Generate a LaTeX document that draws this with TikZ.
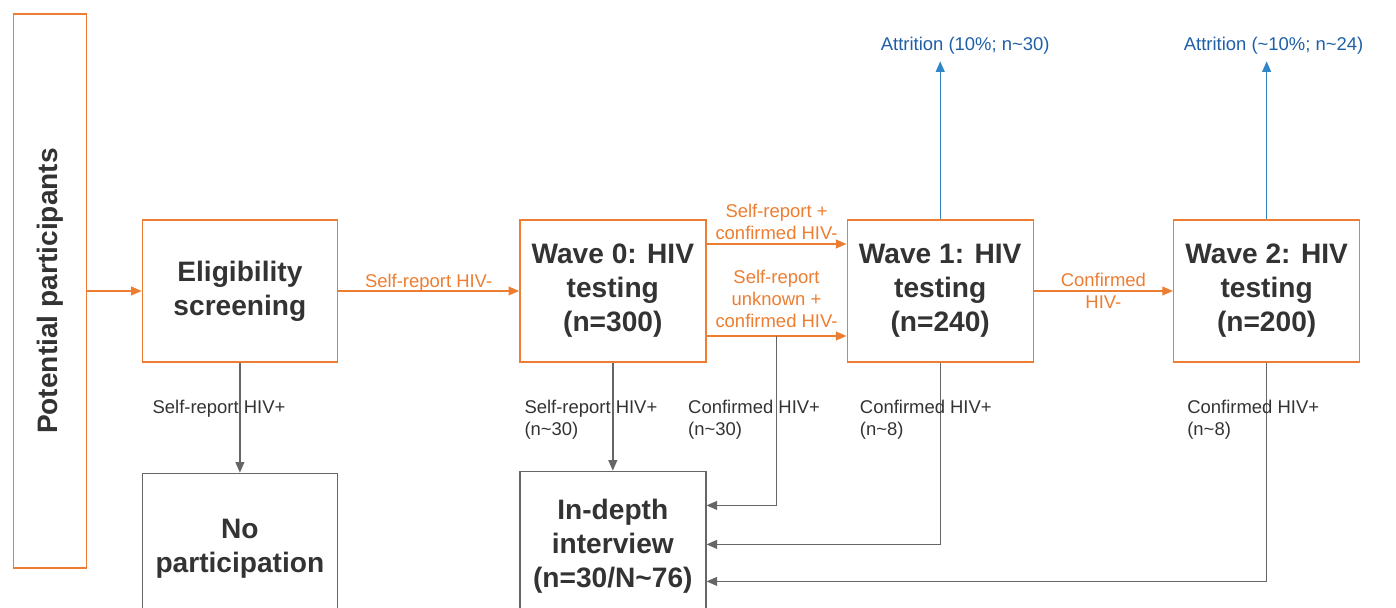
\documentclass[tikz,border=0pt]{standalone}
\usepackage{fontspec}
\setmainfont{Liberation Sans}
\usepackage{tikz}
\usetikzlibrary{positioning, arrows.meta}
\definecolor{ppOrange}{HTML}{ED7D31}
\definecolor{ppGray}{HTML}{666666}
\definecolor{ppText}{HTML}{333333}
\definecolor{ppBlue}{HTML}{2E86C8}
\definecolor{ppBlueText}{HTML}{1F5FA8}
\tikzstyle{block} = [rectangle, minimum width=3.72cm, minimum height=2.84cm, align=center, text=ppText, font=\fontsize{16}{19.3}\selectfont\bfseries, line width=0.8pt]
\tikzstyle{stage} = [block, draw=ppOrange]
\tikzstyle{outcome} = [block, draw=ppGray, minimum height=3cm]
\tikzstyle{lbl} = [font=\fontsize{10.5}{12.5}\selectfont, text=ppText, align=left, inner sep=0pt, anchor=north west]
\tikzstyle{olbl} = [font=\fontsize{10.5}{12.5}\selectfont, text=ppOrange, align=center]
\tikzstyle{blbl} = [font=\fontsize{10.5}{12.5}\selectfont, text=ppBlueText]
\tikzstyle{oarrow} = [line width=0.8pt, color=ppOrange, -{Triangle[length=6pt,width=5pt]}]
\tikzstyle{garrow} = [line width=0.8pt, color=ppGray, -{Triangle[length=6pt,width=5pt]}]
\tikzstyle{barrow} = [line width=0.8pt, color=ppBlue, -{Triangle[length=6pt,width=5pt]}]

\begin{document}
\begin{tikzpicture}[node distance=2cm]
\useasboundingbox (0,0) rectangle (27.92,-12.16);

% Main boxes
\node (pot) [block, draw=ppOrange, minimum width=1.46cm, minimum height=11.08cm] at (1.0,-5.82) {\rotatebox{90}{Potential participants}};
\node (elig) [stage, right=1.09cm of pot, minimum width=3.9cm] {Eligibility\\screening};
\node (wave0) [stage, right=3.62cm of elig] {Wave 0: HIV\\testing\\(n=300)};
\node (wave1) [stage, right=2.8cm of wave0] {Wave 1: HIV\\testing\\(n=240)};
\node (wave2) [stage, right=2.78cm of wave1] {Wave 2: HIV\\testing\\(n=200)};
\node (nopart) [outcome, below=2.2cm of elig, minimum width=3.9cm] {No\\participation};
\node (indepth) [outcome, below=2.16cm of wave0] {In-depth\\interview\\(n=30/N\textasciitilde76)};
\coordinate (att1) at ([yshift=3.16cm]wave1.north);
\coordinate (att2) at ([yshift=3.16cm]wave2.north);

% Orange arrows
\draw [oarrow] (pot) -- (elig);
\draw [oarrow] (elig) -- (wave0) node[midway, above, yshift=-4pt, olbl] {Self-report HIV-};
\draw [oarrow] ([yshift=0.94cm]wave0.east) -- ([yshift=0.94cm]wave1.west) node[midway, above, yshift=-1pt, olbl] {Self-report +\\confirmed HIV-};
\draw [oarrow] ([yshift=-0.9cm]wave0.east) -- coordinate[pos=0.5] (split) ([yshift=-0.9cm]wave1.west) node[midway, above, yshift=1pt, olbl] {Self-report\\unknown +\\confirmed HIV-};
\draw [oarrow] (wave1) -- (wave2) node[midway, olbl] {Confirmed\\HIV-};

% Gray arrows
\draw [garrow] (elig) -- (nopart) node[pos=0, lbl, xshift=-1.76cm, yshift=-0.74cm] {Self-report HIV+};
\draw [garrow] (wave0) -- (indepth) node[pos=0, lbl, xshift=-1.78cm, yshift=-0.74cm] {Self-report HIV+\\(n\textasciitilde30)};
\draw [garrow] (split) |- ([yshift=0.82cm]indepth.east) node[pos=0, lbl, xshift=-1.78cm, yshift=-1.26cm] {Confirmed HIV+\\(n\textasciitilde30)};
\draw [garrow] (wave1) |- ([yshift=0.04cm]indepth.east) node[pos=0, lbl, xshift=-1.62cm, yshift=-0.74cm] {Confirmed HIV+\\(n\textasciitilde8)};
\draw [garrow] (wave2) |- ([yshift=-0.7cm]indepth.east) node[pos=0, lbl, xshift=-1.6cm, yshift=-0.74cm] {Confirmed HIV+\\(n\textasciitilde8)};

% Attrition
\draw [barrow] (wave1) -- (att1) node[above, blbl, xshift=0.5cm] {Attrition (10\%; n\textasciitilde30)};
\draw [barrow] (wave2) -- (att2) node[above, blbl, xshift=0.14cm] {Attrition (\textasciitilde10\%; n\textasciitilde24)};
\end{tikzpicture}
\end{document}
